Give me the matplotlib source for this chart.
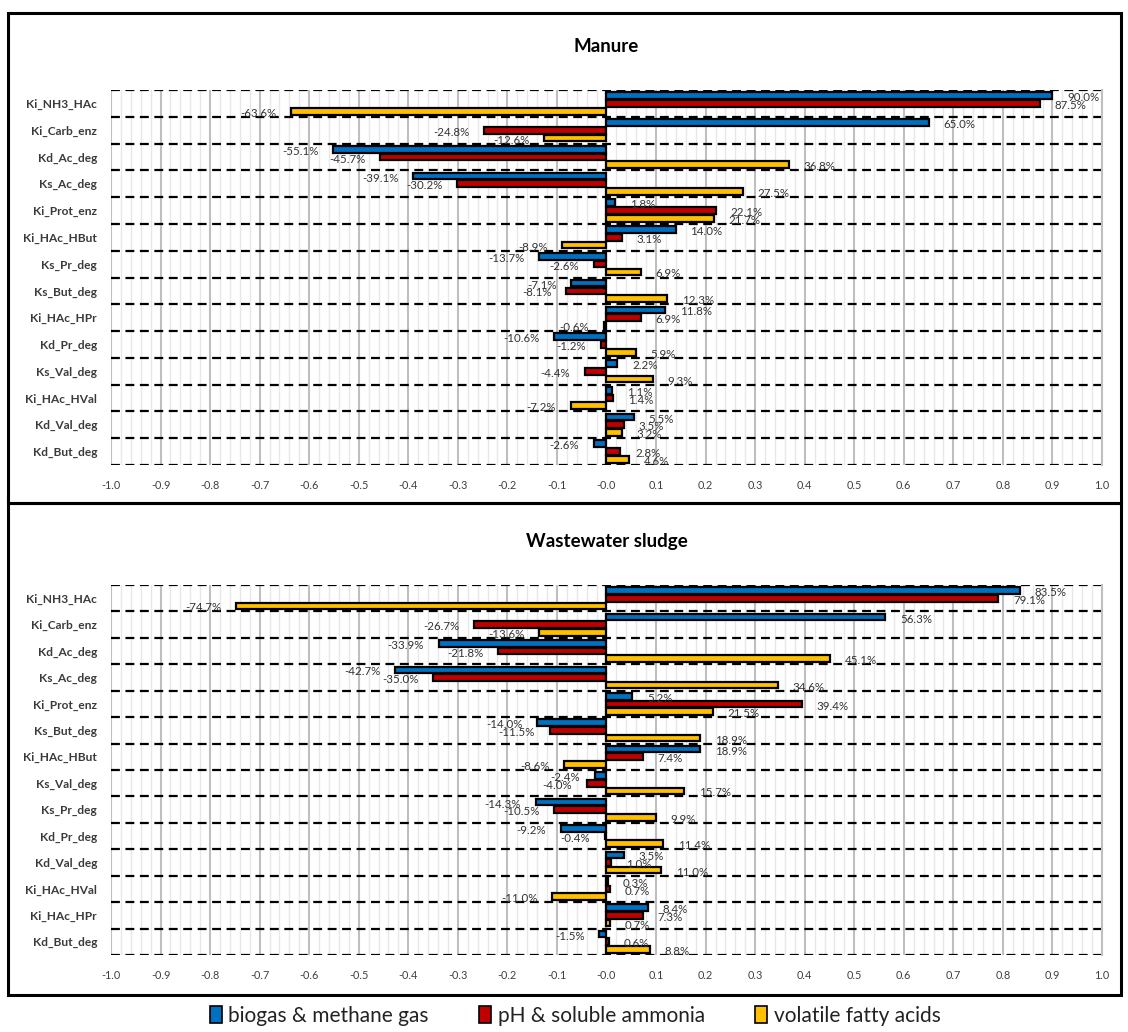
import matplotlib
matplotlib.use("Agg")
import matplotlib.pyplot as plt
from matplotlib.patches import Rectangle
import numpy as np

plt.rcParams["font.family"] = ["Lato", "DejaVu Sans"]

# sensitivity indices per parameter (fraction), top to bottom
manureParams = ["Ki_NH3_HAc", "Ki_Carb_enz", "Kd_Ac_deg", "Ks_Ac_deg", "Ki_Prot_enz",
                "Ki_HAc_HBut", "Ks_Pr_deg", "Ks_But_deg", "Ki_HAc_HPr", "Kd_Pr_deg",
                "Ks_Val_deg", "Ki_HAc_HVal", "Kd_Val_deg", "Kd_But_deg"]
manureBiogas = [0.900, 0.650, -0.551, -0.391, 0.018, 0.140, -0.137, -0.071, 0.118, -0.106,
                0.022, 0.011, 0.055, -0.026]
manurePh = [0.875, -0.248, -0.457, -0.302, 0.221, 0.031, -0.026, -0.081, 0.069, -0.012,
            -0.044, 0.014, 0.035, 0.028]
manureVfa = [-0.636, -0.126, 0.368, 0.275, 0.217, -0.089, 0.069, 0.123, -0.006, 0.059,
             0.093, -0.072, 0.032, 0.046]

sludgeParams = ["Ki_NH3_HAc", "Ki_Carb_enz", "Kd_Ac_deg", "Ks_Ac_deg", "Ki_Prot_enz",
                "Ks_But_deg", "Ki_HAc_HBut", "Ks_Val_deg", "Ks_Pr_deg", "Kd_Pr_deg",
                "Kd_Val_deg", "Ki_HAc_HVal", "Ki_HAc_HPr", "Kd_But_deg"]
sludgeBiogas = [0.835, 0.563, -0.339, -0.427, 0.052, -0.140, 0.189, -0.024, -0.143, -0.092,
                0.035, 0.003, 0.084, -0.015]
sludgePh = [0.791, -0.267, -0.218, -0.350, 0.394, -0.115, 0.074, -0.040, -0.105, -0.004,
            0.010, 0.007, 0.073, 0.006]
sludgeVfa = [-0.747, -0.136, 0.451, 0.346, 0.215, 0.189, -0.086, 0.157, 0.099, 0.114,
             0.110, -0.110, 0.007, 0.088]

seriesNames = ["biogas & methane gas", "pH & soluble ammonia", "volatile fatty acids"]
seriesColors = ["#0070C0", "#C00000", "#FFC000"]
xTicks = np.round(np.arange(-1.0, 1.01, 0.1), 1)

W, H = 1128, 1032
fig = plt.figure(figsize=(W / 100, H / 100), dpi=100)


def px(x0, y0, x1, y1):
    # pixel box -> figure fraction [left, bottom, width, height]
    return [x0 / W, 1 - y1 / H, (x1 - x0) / W, (y1 - y0) / H]


def drawPanel(rect, title, titleY, params, series):
    ax = fig.add_axes(rect)
    n = len(params)
    pos = np.arange(n)
    offsets = [-0.29, 0.0, 0.29]
    for vals, off, col in zip(series, offsets, seriesColors):
        bars = ax.barh(pos + off, vals, height=0.25, color=col, edgecolor="black",
                       linewidth=1.6, zorder=3)
        for b, v in zip(bars, vals):
            ax.annotate(f"{v * 100:.1f}%", (v, b.get_y() + b.get_height() / 2),
                        xytext=(10.5 if v >= 0 else -10.5, -1.5), textcoords="offset points",
                        ha="left" if v >= 0 else "right", va="center",
                        fontsize=8.3, color="#333333", zorder=4)
    # dashed separators between parameters
    for yb in np.arange(-0.5, n, 1.0):
        ax.axhline(yb, color="black", linestyle=(0, (4, 2.5)), linewidth=1.6, zorder=2)
    ax.set_xlim(-1.0, 1.0)
    ax.set_ylim(n - 0.5, -0.5)
    ax.set_yticks(pos)
    ax.set_yticklabels(params, fontsize=8.6, fontweight="bold", color="#3a3a3a")
    ax.set_xticks(xTicks)
    ax.set_xticklabels([f"{t:.1f}" for t in xTicks], fontsize=7.8, color="#404040")
    ax.set_xticks(np.arange(-1.0, 1.001, 0.02), minor=True)
    ax.tick_params(axis="y", length=0, pad=10)
    ax.tick_params(axis="x", which="both", length=0, pad=11)
    ax.grid(axis="x", which="major", color="#BFBFBF", linewidth=1.5, zorder=0)
    ax.grid(axis="x", which="minor", color="#E8E8E8", linewidth=1.0, zorder=0)
    ax.axvline(0, color="#BFBFBF", linewidth=1.5, zorder=1)
    for s in ["top", "left", "bottom"]:
        ax.spines[s].set_visible(False)
    ax.spines["right"].set_color("#BFBFBF")
    ax.spines["right"].set_linewidth(1.5)
    fig.text(0.5 * (rect[0] * 2 + rect[2]), 1 - titleY / H, title, ha="center", va="center",
             fontsize=13.5, fontweight="bold", color="black")
    return ax


drawPanel(px(111, 90, 1102, 465), "Manure", 47, manureParams,
          [manureBiogas, manurePh, manureVfa])
drawPanel(px(111, 585, 1102, 955), "Wastewater sludge", 541, sludgeParams,
          [sludgeBiogas, sludgePh, sludgeVfa])

# panel frames
for y0, y1 in [(13, 503), (503, 995)]:
    fig.add_artist(Rectangle((8 / W, 1 - y1 / H), (1121 - 8) / W, (y1 - y0) / H,
                             transform=fig.transFigure, fill=False, edgecolor="black",
                             linewidth=2.2))

handles = [Rectangle((0, 0), 1, 1, facecolor=c, edgecolor="black", linewidth=1.2)
           for c in seriesColors]
fig.legend(handles, seriesNames, loc="center", bbox_to_anchor=(575 / W, 1 - 1016 / H),
           ncol=3, frameon=False, fontsize=15, handlelength=0.6, handleheight=0.9,
           handletextpad=0.3, columnspacing=2.4, labelcolor="#222222")

fig.savefig("out.png", dpi=100)
